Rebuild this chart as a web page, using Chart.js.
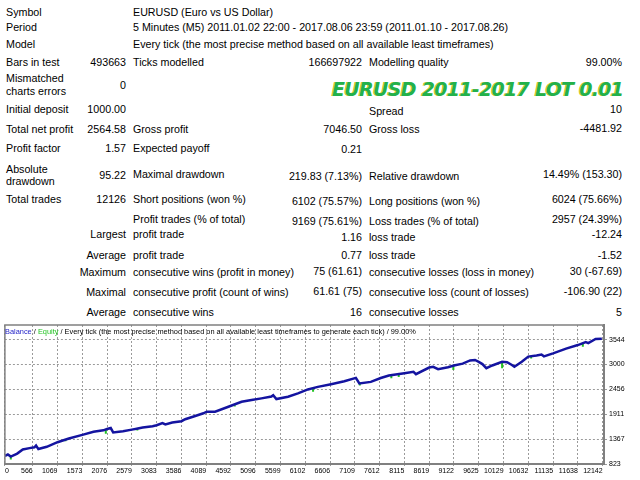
<!DOCTYPE html>
<html>
<head>
<meta charset="utf-8">
<title>Strategy Tester Report</title>
<script src="https://cdn.jsdelivr.net/npm/chart.js@4.4.1/dist/chart.umd.min.js"></script>
<style>
    body { margin: 0; width: 640px; height: 480px; overflow: hidden; background: #fff; }
    .t { position: absolute; font: 10.7px "Liberation Sans", Arial, sans-serif; line-height: 13px; color: #000; white-space: nowrap; }
    .big {
        position: absolute; left: 332px; top: 79px;
        font: italic bold 19px "DejaVu Sans", sans-serif; line-height: 20px; letter-spacing: -0.7px;
        color: #22b14c; text-shadow: -1px 0 #d8c820; white-space: nowrap;
    }
    #chartBox { position: absolute; left: 0; top: 318px; width: 640px; height: 162px; }
    #legend { position: absolute; left: 5px; top: 327px; font: 7.4px "Liberation Sans", Arial, sans-serif; line-height: 9px; color: #000; white-space: nowrap; }
    #legend .bal { color: #2424c8; }
    #legend .eq { color: #22c422; }
</style>
</head>
<body>

<!-- report table -->
<div class="t" style="top:6px;left:6px">Symbol</div>
<div class="t" style="top:6px;left:133px">EURUSD (Euro vs US Dollar)</div>
<div class="t" style="top:21px;left:6px">Period</div>
<div class="t" style="top:21px;left:133px">5 Minutes (M5) 2011.01.02 22:00 - 2017.08.06 23:59 (2011.01.10 - 2017.08.26)</div>
<div class="t" style="top:37.5px;left:6px">Model</div>
<div class="t" style="top:37.5px;left:133px">Every tick (the most precise method based on all available least timeframes)</div>

<div class="t" style="top:56px;left:6px">Bars in test</div>
<div class="t" style="top:56px;right:514px">493663</div>
<div class="t" style="top:56px;left:133px">Ticks modelled</div>
<div class="t" style="top:56px;right:278px">166697922</div>
<div class="t" style="top:56px;left:369px">Modelling quality</div>
<div class="t" style="top:56px;right:18px">99.00%</div>

<div class="t" style="top:72px;left:6px">Mismatched</div>
<div class="t" style="top:85px;left:6px">charts errors</div>
<div class="t" style="top:78.5px;right:514px">0</div>

<div class="big">EURUSD 2011-2017 LOT 0.01</div>

<div class="t" style="top:103px;left:6px">Initial deposit</div>
<div class="t" style="top:103px;right:514px">1000.00</div>
<div class="t" style="top:105px;left:369px">Spread</div>
<div class="t" style="top:103px;right:18px">10</div>

<div class="t" style="top:123px;left:6px">Total net profit</div>
<div class="t" style="top:123px;right:514px">2564.58</div>
<div class="t" style="top:123px;left:133px">Gross profit</div>
<div class="t" style="top:123px;right:278px">7046.50</div>
<div class="t" style="top:123px;left:369px">Gross loss</div>
<div class="t" style="top:121.5px;right:18px">-4481.92</div>

<div class="t" style="top:142px;left:6px">Profit factor</div>
<div class="t" style="top:142px;right:514px">1.57</div>
<div class="t" style="top:142px;left:133px">Expected payoff</div>
<div class="t" style="top:143px;right:278px">0.21</div>

<div class="t" style="top:162.5px;left:6px">Absolute</div>
<div class="t" style="top:175px;left:6px">drawdown</div>
<div class="t" style="top:168.5px;right:514px">95.22</div>
<div class="t" style="top:168px;left:133px">Maximal drawdown</div>
<div class="t" style="top:170px;right:278px">219.83 (7.13%)</div>
<div class="t" style="top:170px;left:369px">Relative drawdown</div>
<div class="t" style="top:168px;right:18px">14.49% (153.30)</div>

<div class="t" style="top:192.5px;left:6px">Total trades</div>
<div class="t" style="top:192.5px;right:514px">12126</div>
<div class="t" style="top:192.5px;left:133px">Short positions (won %)</div>
<div class="t" style="top:195px;right:278px">6102 (75.57%)</div>
<div class="t" style="top:195px;left:369px">Long positions (won %)</div>
<div class="t" style="top:192.5px;right:18px">6024 (75.66%)</div>

<div class="t" style="top:212.5px;left:133px">Profit trades (% of total)</div>
<div class="t" style="top:215px;right:278px">9169 (75.61%)</div>
<div class="t" style="top:215px;left:369px">Loss trades (% of total)</div>
<div class="t" style="top:212.5px;right:18px">2957 (24.39%)</div>

<div class="t" style="top:228px;right:514px">Largest</div>
<div class="t" style="top:228px;left:133px">profit trade</div>
<div class="t" style="top:230.5px;right:278px">1.16</div>
<div class="t" style="top:230.5px;left:369px">loss trade</div>
<div class="t" style="top:228px;right:18px">-12.24</div>

<div class="t" style="top:249px;right:514px">Average</div>
<div class="t" style="top:249px;left:133px">profit trade</div>
<div class="t" style="top:249px;right:278px">0.77</div>
<div class="t" style="top:249px;left:369px">loss trade</div>
<div class="t" style="top:249px;right:18px">-1.52</div>

<div class="t" style="top:265.5px;right:514px">Maximum</div>
<div class="t" style="top:265.5px;left:133px">consecutive wins (profit in money)</div>
<div class="t" style="top:265px;right:278px">75 (61.61)</div>
<div class="t" style="top:265.5px;left:369px">consecutive losses (loss in money)</div>
<div class="t" style="top:265px;right:18px">30 (-67.69)</div>

<div class="t" style="top:285.5px;right:514px">Maximal</div>
<div class="t" style="top:285.5px;left:133px">consecutive profit (count of wins)</div>
<div class="t" style="top:285px;right:278px">61.61 (75)</div>
<div class="t" style="top:285.5px;left:369px">consecutive loss (count of losses)</div>
<div class="t" style="top:285px;right:18px">-106.90 (22)</div>

<div class="t" style="top:305.5px;right:514px">Average</div>
<div class="t" style="top:305.5px;left:133px">consecutive wins</div>
<div class="t" style="top:305.5px;right:278px">16</div>
<div class="t" style="top:305.5px;left:369px">consecutive losses</div>
<div class="t" style="top:305.5px;right:18px">5</div>

<!-- balance / equity graph -->
<div id="chartBox"><canvas id="myChart" width="640" height="162"></canvas></div>
<div id="legend"><span class="bal">Balance</span> / <span class="eq">Equity</span> / Every tick (the most precise method based on all available least timeframes to generate each tick) / 99.00%</div>

<script>
// trade number -> account balance
const balanceTrades = [0, 60, 120, 250, 364, 500, 600, 633, 680, 850, 1069, 1300, 1573, 1800, 2000, 2076, 2150, 2200,
    2400, 2579, 2700, 2800, 3000, 3083, 3200, 3260, 3400, 3586, 3663, 3866, 4033, 4100, 4270, 4540, 4808, 5010, 5212,
    5414, 5450, 5515, 5751, 5953, 6155, 6357, 6626, 6895, 7130, 7200, 7433, 7635, 7800, 8115, 8300, 8350, 8619, 8700,
    8800, 9000, 9122, 9300, 9450, 9550, 9625, 9700, 9780, 9900, 10100, 10200, 10300, 10350, 10500, 10632, 10800,
    10900, 10950, 11135, 11400, 11638, 11800, 11850, 12000, 12126];
const balanceValues = [1000, 1030, 985, 1050, 1140, 1170, 1190, 1228, 1150, 1200, 1300, 1380, 1460, 1530, 1560, 1590, 1610, 1515,
    1540, 1576, 1600, 1620, 1650, 1672, 1720, 1690, 1730, 1760, 1803, 1874, 1933, 1968, 1968, 2077, 2186, 2223, 2260,
    2300, 2330, 2245, 2295, 2368, 2455, 2512, 2571, 2636, 2708, 2586, 2621, 2705, 2760, 2810, 2840, 2790, 2935, 2950,
    2900, 2940, 2978, 3020, 3090, 3100, 3060, 3010, 2920, 2980, 3060, 3050, 2990, 2950, 3060, 3174, 3200,
    3220, 3180, 3246, 3350, 3427, 3490, 3470, 3560, 3565];

// equity drops below balance (green spikes)
const equityTrades = [120, 1230, 2050, 2690, 4670, 6260, 7210, 7850, 8000, 9110, 10100, 10690, 11740];
const equityTop = [985, 1360, 1580, 1600, 2110, 2480, 2600, 2770, 2795, 2975, 3060, 3185, 3480];
const equityLow = [920, 1320, 1485, 1556, 2080, 2406, 2540, 2700, 2730, 2880, 2920, 3130, 3390];

const xTicks = [0, 566, 1069, 1573, 2076, 2579, 3083, 3586, 4089, 4592, 5096, 5599, 6102, 6606, 7109, 7612, 8115,
    8619, 9122, 9625, 10129, 10632, 11135, 11638, 12142];
const yTicks = [823, 1367, 1911, 2456, 3000, 3544];

const balancePoints = balanceTrades.map((t, i) => ({ x: t, y: balanceValues[i] }));

const equityPoints = [];
equityTrades.forEach((t, i) => {
    equityPoints.push({ x: t, y: equityTop[i] });
    equityPoints.push({ x: t, y: equityLow[i] });
    equityPoints.push({ x: t, y: null });
});

// gray frame on top and left of the plot
const framePlugin = {
    id: 'frame',
    afterDraw(chart) {
        const { ctx, chartArea: a } = chart;
        ctx.save();
        ctx.strokeStyle = '#808080';
        ctx.lineWidth = 1.5;
        ctx.beginPath();
        ctx.moveTo(a.left, a.bottom);
        ctx.lineTo(a.left, a.top);
        ctx.lineTo(a.right, a.top);
        ctx.stroke();
        ctx.restore();
    }
};

// first "0" label sits inside the plot, like the tester does it
const zeroLabelPlugin = {
    id: 'zeroLabel',
    beforeDraw(chart) {
        const items = chart.scales.x.getLabelItems();
        if (items.length) {
            items[0].options.textAlign = 'left';
        }
    }
};

const tickFont = { family: 'Liberation Sans', size: 7 };
const gridColor = '#9a9a9a';

const ctx = document.getElementById('myChart').getContext('2d');
const myChart = new Chart(ctx, {
    type: 'line',
    data: {
        datasets: [{
                label: 'Balance',
                data: balancePoints,
                borderColor: '#1414a0',
                borderWidth: 2.5,
                pointRadius: 0,
                tension: 0
            },
            {
                label: 'Equity',
                data: equityPoints,
                borderColor: '#22c422',
                borderWidth: 2,
                pointRadius: 0,
                spanGaps: false
            }
        ]
    },
    options: {
        responsive: false,
        animation: false,
        layout: { padding: { left: 2, top: 7, right: 0, bottom: 0 } },
        plugins: {
            legend: { display: false },
            tooltip: { enabled: false }
        },
        scales: {
            x: {
                type: 'linear',
                min: 0,
                max: 12170,
                afterBuildTicks: scale => { scale.ticks = xTicks.map(v => ({ value: v })); },
                afterFit: scale => { scale.height = 16; },
                ticks: {
                    align: 'end',
                    autoSkip: false,
                    maxRotation: 0,
                    padding: 1,
                    color: '#000',
                    font: tickFont,
                    callback: v => String(v)
                },
                grid: { color: gridColor, lineWidth: 1, tickLength: 2 },
                border: { color: '#808080', width: 2, dash: [2, 2] }
            },
            y: {
                position: 'right',
                min: 823,
                max: 3866,
                afterBuildTicks: scale => { scale.ticks = yTicks.map(v => ({ value: v })); },
                afterFit: scale => { scale.width = 36; },
                ticks: {
                    padding: 2,
                    color: '#000',
                    font: tickFont,
                    callback: v => String(v)
                },
                grid: { color: gridColor, lineWidth: 1, tickLength: 3 },
                border: { color: '#808080', width: 2, dash: [2, 2] }
            }
        }
    },
    plugins: [framePlugin, zeroLabelPlugin]
});
</script>
</body>
</html>
